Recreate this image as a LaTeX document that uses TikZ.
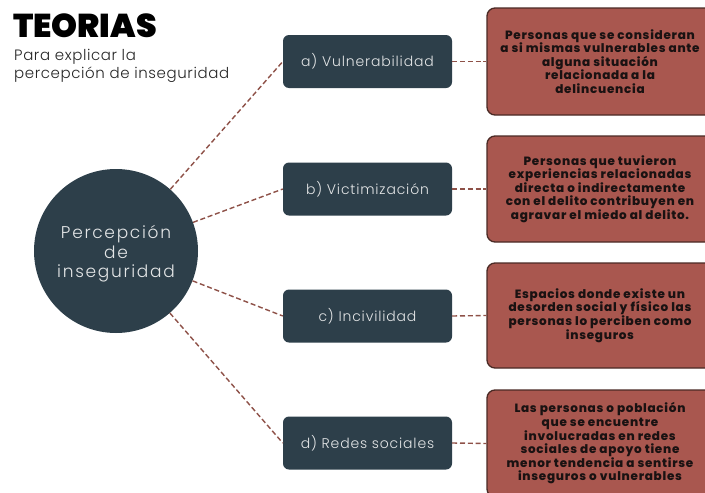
\documentclass[tikz,border=0pt]{standalone}
\usepackage{fontspec}
\setmainfont{Poppins}
\newfontfamily\titlefont{Poppins}[UprightFont={* Black}]
\newfontfamily\subfont{Poppins}[UprightFont={* Light}, LetterSpace=4]
\newfontfamily\boxfont{Poppins}[UprightFont={* Light}, LetterSpace=6]
\newfontfamily\circfont{Poppins}[UprightFont={* Light}, LetterSpace=10]
\newfontfamily\redfont{Poppins}[UprightFont={* ExtraBold}, LetterSpace=6]
\definecolor{darkc}{HTML}{2D3F4A}
\definecolor{lightc}{HTML}{E4E6E7}
\definecolor{redc}{HTML}{A9574F}
\definecolor{redborder}{HTML}{4A2A25}
\definecolor{inkc}{HTML}{1A1212}
\definecolor{connc}{HTML}{8E5148}
\begin{document}
\begin{tikzpicture}[x=1pt,y=-1pt,
  conn/.style={draw=connc, line width=1.4pt, dash pattern=on 5pt off 2.8pt},
  darkbox/.style={fill=darkc, rounded corners=6pt, minimum width=169pt, minimum height=53pt, text=lightc, font=\boxfont\fontsize{14}{16}\selectfont, inner sep=0pt},
  redbox/.style={fill=redc, draw=redborder, line width=1.3pt, rounded corners=8pt, minimum width=226pt, text=inkc, align=center, font=\redfont\fontsize{12}{13.6}\selectfont, inner sep=0pt},
  circ/.style={circle, fill=darkc, minimum size=164pt, inner sep=0pt},
  circtext/.style={inner sep=0pt, text=lightc, align=center, font=\circfont\fontsize{17}{19.5}\selectfont}
]
\useasboundingbox (0,0) rectangle (705,493);
\clip (0,0) rectangle (705,493);
\fill[white] (0,0) rectangle (705,493);

\node[anchor=base west, inner sep=0pt, font=\titlefont\fontsize{33}{40}\selectfont] (title) at (13,37) {TEORIAS};
\node[anchor=north west, inner sep=0pt, align=left, font=\subfont\fontsize{15}{18}\selectfont, text=black!85] (sub) at (14,49) {Para explicar la\\percepción de inseguridad};

\node[circ] (c) at (116,251) {};
\node[circtext] (ct) at (116,254) {Percepción\\de\\inseguridad};

\node[darkbox] (a) at (367.5,61.5) {a) Vulnerabilidad};
\node[darkbox] (b) at (367.5,189) {b) Victimización};
\node[darkbox] (cc) at (367.5,316) {c) Incivilidad};
\node[darkbox] (d) at (367.5,443) {d) Redes sociales};

\node[redbox, minimum height=107pt] (ra) at (600,61.5) {Personas que se consideran\\a si mismas vulnerables ante\\alguna situación\\relacionada a la\\delincuencia};
\node[redbox, minimum height=106pt] (rb) at (600,189) {Personas que tuvieron\\experiencias relacionadas\\directa o indirectamente\\con el delito contribuyen en\\agravar el miedo al delito.};
\node[redbox, minimum height=105pt] (rc) at (600,315.5) {Espacios donde existe un\\desorden social y físico las\\personas lo perciben como\\inseguros};
\node[redbox, minimum height=107pt] (rd) at (600,443.5) {Las personas o población\\que se encuentre\\involucradas en redes\\sociales de apoyo tiene\\menor tendencia a sentirse\\inseguros o vulnerables};

\draw[conn] (c) -- (a.west);
\draw[conn] (c) -- (b.west);
\draw[conn] (c) -- (cc.west);
\draw[conn] (c) -- (d.west);
\draw[conn] (a.east) -- (ra.west);
\draw[conn] (b.east) -- (rb.west);
\draw[conn] (cc.east) -- (rc.west);
\draw[conn] (d.east) -- (rd.west);
\end{tikzpicture}
\end{document}
